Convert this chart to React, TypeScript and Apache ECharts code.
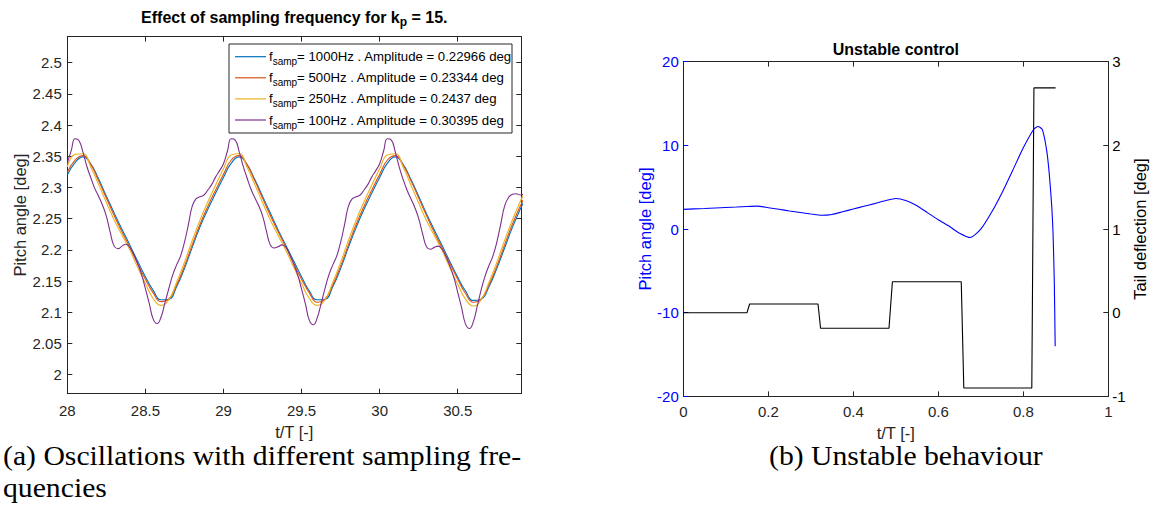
import React, { useEffect, useRef } from "react";
import * as echarts from "echarts";

// ---------- (a) Oscillations with different sampling frequencies ----------
const timeCoarse = [
  28.0, 28.05, 28.1, 28.15, 28.2, 28.25, 28.3, 28.35, 28.4, 28.45, 28.5, 28.55, 28.6, 28.65, 28.7, 28.75, 28.8, 28.85, 28.9, 28.95,
  29.0, 29.05, 29.1, 29.15, 29.2, 29.25, 29.3, 29.35, 29.4, 29.45, 29.5, 29.55, 29.6, 29.65, 29.7, 29.75, 29.8, 29.85, 29.9, 29.95,
  30.0, 30.05, 30.1, 30.15, 30.2, 30.25, 30.3, 30.35, 30.4, 30.45, 30.5, 30.55, 30.6, 30.65, 30.7, 30.75, 30.8, 30.85, 30.9, 30.95,
];
const pitch1000Hz = [
  2.320, 2.340, 2.349, 2.338, 2.314, 2.286, 2.259, 2.233, 2.208, 2.182, 2.157, 2.135, 2.120, 2.121, 2.141, 2.170, 2.204, 2.237, 2.265, 2.291,
  2.316, 2.339, 2.349, 2.337, 2.313, 2.286, 2.259, 2.232, 2.207, 2.182, 2.157, 2.134, 2.120, 2.121, 2.141, 2.170, 2.204, 2.236, 2.265, 2.291,
  2.316, 2.339, 2.349, 2.337, 2.313, 2.286, 2.258, 2.232, 2.207, 2.181, 2.156, 2.134, 2.119, 2.121, 2.141, 2.170, 2.203, 2.236, 2.265, 2.291,
];
const pitch500Hz = [
  2.324, 2.344, 2.351, 2.337, 2.311, 2.283, 2.255, 2.229, 2.204, 2.178, 2.153, 2.131, 2.117, 2.121, 2.144, 2.174, 2.208, 2.241, 2.270, 2.296,
  2.321, 2.344, 2.351, 2.337, 2.311, 2.283, 2.255, 2.229, 2.204, 2.178, 2.153, 2.131, 2.116, 2.121, 2.144, 2.174, 2.208, 2.241, 2.270, 2.296,
  2.321, 2.344, 2.351, 2.336, 2.311, 2.283, 2.255, 2.228, 2.203, 2.178, 2.153, 2.130, 2.116, 2.121, 2.144, 2.174, 2.208, 2.241, 2.270, 2.296,
];
const pitch250Hz = [
  2.333, 2.353, 2.354, 2.333, 2.305, 2.276, 2.248, 2.224, 2.200, 2.172, 2.146, 2.122, 2.111, 2.120, 2.148, 2.180, 2.215, 2.248, 2.277, 2.304,
  2.330, 2.352, 2.354, 2.333, 2.305, 2.276, 2.248, 2.223, 2.199, 2.172, 2.146, 2.122, 2.111, 2.120, 2.148, 2.180, 2.215, 2.248, 2.277, 2.304,
  2.330, 2.352, 2.354, 2.333, 2.304, 2.275, 2.247, 2.223, 2.199, 2.171, 2.145, 2.121, 2.110, 2.120, 2.148, 2.180, 2.215, 2.248, 2.277, 2.304,
];
const timeFine = [
  28.0, 28.025, 28.05, 28.075, 28.1, 28.125, 28.15, 28.175, 28.2, 28.225, 28.25, 28.275, 28.3, 28.325, 28.35, 28.375, 28.4, 28.425, 28.45, 28.475,
  28.5, 28.525, 28.55, 28.575, 28.6, 28.625, 28.65, 28.675, 28.7, 28.725, 28.75, 28.775, 28.8, 28.825, 28.85, 28.875, 28.9, 28.925, 28.95, 28.975,
  29.0, 29.025, 29.05, 29.075, 29.1, 29.125, 29.15, 29.175, 29.2, 29.225, 29.25, 29.275, 29.3, 29.325, 29.35, 29.375, 29.4, 29.425, 29.45, 29.475,
  29.5, 29.525, 29.55, 29.575, 29.6, 29.625, 29.65, 29.675, 29.7, 29.725, 29.75, 29.775, 29.8, 29.825, 29.85, 29.875, 29.9, 29.925, 29.95, 29.975,
  30.0, 30.025, 30.05, 30.075, 30.1, 30.125, 30.15, 30.175, 30.2, 30.225, 30.25, 30.275, 30.3, 30.325, 30.35, 30.375, 30.4, 30.425, 30.45, 30.475,
  30.5, 30.525, 30.55, 30.575, 30.6, 30.625, 30.65, 30.675, 30.7, 30.725, 30.75, 30.775, 30.8, 30.825, 30.85, 30.875, 30.9, 30.925, 30.95, 30.975,
];
const pitch100Hz = [
  2.339, 2.359, 2.378, 2.375, 2.357, 2.334, 2.316, 2.299, 2.286, 2.272, 2.254, 2.228, 2.206, 2.202, 2.206, 2.209, 2.204, 2.193, 2.178, 2.161,
  2.138, 2.114, 2.089, 2.082, 2.092, 2.115, 2.138, 2.160, 2.176, 2.190, 2.212, 2.240, 2.270, 2.282, 2.285, 2.288, 2.296, 2.305, 2.317, 2.327,
  2.338, 2.358, 2.378, 2.376, 2.358, 2.335, 2.316, 2.298, 2.284, 2.271, 2.255, 2.230, 2.208, 2.203, 2.205, 2.208, 2.204, 2.192, 2.177, 2.160,
  2.137, 2.113, 2.087, 2.080, 2.091, 2.114, 2.138, 2.160, 2.176, 2.190, 2.212, 2.240, 2.270, 2.282, 2.285, 2.288, 2.296, 2.305, 2.317, 2.327,
  2.338, 2.358, 2.378, 2.376, 2.357, 2.333, 2.313, 2.296, 2.282, 2.268, 2.250, 2.226, 2.205, 2.201, 2.204, 2.206, 2.201, 2.189, 2.174, 2.156,
  2.132, 2.107, 2.081, 2.074, 2.085, 2.110, 2.136, 2.158, 2.175, 2.190, 2.212, 2.241, 2.270, 2.284, 2.289, 2.290, 2.288, 2.290, 2.300, 2.312,
];
const samplingRates = ["1000Hz", "500Hz", "250Hz", "100Hz"];
const amplitudes = ["0.22966", "0.23344", "0.2437", "0.30395"];
const lineColors = ["#0072BD", "#D95319", "#EDB120", "#7E2F8E"];

// ---------- (b) Unstable behaviour ----------
const unstableTime = [
  0.0, 0.025, 0.05, 0.075, 0.1, 0.125, 0.15, 0.175, 0.2, 0.225, 0.25, 0.275, 0.3, 0.325, 0.35, 0.375, 0.4, 0.425, 0.45, 0.475,
  0.5, 0.525, 0.55, 0.575, 0.6, 0.625, 0.65, 0.675, 0.7, 0.725, 0.75, 0.775, 0.8, 0.825, 0.835, 0.845, 0.855, 0.861, 0.867,
  0.87, 0.873, 0.875,
];
const unstablePitch = [
  2.35, 2.40, 2.45, 2.51, 2.57, 2.63, 2.69, 2.73, 2.54, 2.35, 2.16, 1.98, 1.80, 1.64, 1.74, 2.06, 2.39, 2.71, 3.03, 3.37,
  3.65, 3.38, 2.78, 1.93, 1.10, 0.35, -0.50, -1.02, -0.02, 1.96, 4.34, 7.0, 9.7, 11.95, 12.25, 11.85, 9.4, 6.65, 2.66,
  -0.5, -6.5, -14.0,
];
const tailTime = [0.0, 0.15, 0.156, 0.317, 0.323, 0.484, 0.492, 0.654, 0.66, 0.82, 0.825, 0.876];
const tailDeflection = [0.0, 0.0, 0.104, 0.104, -0.186, -0.186, 0.37, 0.37, -0.9, -0.9, 2.686, 2.686];

const captionA1 = "(a) Oscillations with different sampling fre-";
const captionA2 = "quencies";
const captionB = "(b) Unstable behaviour";

const SANS = "'Liberation Sans', Arial, Helvetica, sans-serif";
const SERIF = "'Liberation Serif', 'Times New Roman', serif";
const GRAY = "#262626";

const pairs = (xs: number[], ys: number[]) => xs.map((x, i) => [x, ys[i]]);

// layout (pixels)
const A = { left: 67.3, top: 36.6, width: 454, height: 357.1 };
const B = { left: 683.3, top: 61.6, width: 425, height: 334.8 };

function baseAxis(extra: any) {
  return {
    type: "value",
    axisLine: { show: true, onZero: false, lineStyle: { color: GRAY, width: 1 } },
    axisTick: { show: true, inside: true, length: 5, lineStyle: { color: GRAY, width: 1 } },
    axisLabel: { color: GRAY, fontSize: 15, fontFamily: SANS },
    splitLine: { show: false },
    ...extra,
  };
}

const fmt05 = (v: number) =>
  Math.abs(v * 20 - Math.round(v * 20)) < 1e-6 ? String(Math.round(v * 100) / 100) : "";

export default function App() {
  const ref = useRef<HTMLDivElement>(null);

  useEffect(() => {
    if (!ref.current) return;
    const chart = echarts.init(ref.current, null, { renderer: "svg" });

    const legendTop = 44;
    const legendRows = [56.7, 77.8, 98.9, 120];
    const legendEls: any[] = [
      {
        type: "rect",
        shape: { x: 229, y: legendTop, width: 283, height: 89 },
        style: { fill: "#ffffff", stroke: GRAY, lineWidth: 1 },
        z: 100,
      },
    ];
    samplingRates.forEach((r, i) => {
      legendEls.push({
        type: "line",
        shape: { x1: 235, y1: legendRows[i], x2: 266, y2: legendRows[i] },
        style: { stroke: lineColors[i], lineWidth: 1.2 },
        z: 101,
      });
      legendEls.push({
        type: "text",
        x: 269,
        y: legendRows[i],
        z: 101,
        style: {
          text: `{a|f}{b|samp}{a|= ${r} . Amplitude = ${amplitudes[i]} deg}`,
          verticalAlign: "middle",
          rich: {
            a: { fontSize: 13.2, fontFamily: SANS, fill: "#000", lineHeight: 20, verticalAlign: "middle" },
            b: { fontSize: 10, fontFamily: SANS, fill: "#000", verticalAlign: "bottom" },
          },
        },
      });
    });

    const captionStyle = { verticalAlign: "middle", fontSize: 27, fontFamily: SERIF, fill: "#000" };

    const option: any = {
      animation: false,
      backgroundColor: "#ffffff",
      grid: [
        { left: A.left, top: A.top, width: A.width, height: A.height, containLabel: false },
        { left: B.left, top: B.top, width: B.width, height: B.height, containLabel: false },
      ],
      xAxis: [
        baseAxis({
          gridIndex: 0, position: "bottom", min: 28, max: 30.907, interval: 0.5,
          axisLabel: { color: GRAY, fontSize: 15, fontFamily: SANS, margin: 9, showMaxLabel: false,
            formatter: (v: number) => (Math.abs(v * 2 - Math.round(v * 2)) < 1e-6 ? String(v) : "") },
          name: "t/T [-]", nameLocation: "middle", nameGap: 30,
          nameTextStyle: { color: GRAY, fontSize: 16.5, fontFamily: SANS },
        }),
        baseAxis({
          gridIndex: 0, position: "top", min: 28, max: 30.907, interval: 0.5,
          axisLabel: { show: false },
        }),
        baseAxis({
          gridIndex: 1, position: "bottom", min: 0, max: 1, interval: 0.2,
          axisLabel: { color: GRAY, fontSize: 15, fontFamily: SANS, margin: 8 },
          name: "t/T [-]", nameLocation: "middle", nameGap: 26,
          nameTextStyle: { color: GRAY, fontSize: 16.5, fontFamily: SANS },
        }),
        baseAxis({
          gridIndex: 1, position: "top", min: 0, max: 1, interval: 0.2,
          axisLabel: { show: false },
        }),
      ],
      yAxis: [
        baseAxis({
          gridIndex: 0, position: "left", min: 1.9695, max: 2.5418, splitNumber: 11,
          axisLabel: { color: GRAY, fontSize: 15, fontFamily: SANS, margin: 5.5, formatter: fmt05 },
          name: "Pitch angle [deg]", nameLocation: "middle", nameGap: 39, nameRotate: 90,
          nameTextStyle: { color: GRAY, fontSize: 16.5, fontFamily: SANS },
        }),
        baseAxis({
          gridIndex: 0, position: "right", min: 1.9695, max: 2.5418, splitNumber: 11,
          axisLabel: { show: false },
        }),
        baseAxis({
          gridIndex: 1, position: "left", min: -20, max: 20, interval: 10,
          axisLine: { show: true, onZero: false, lineStyle: { color: "#0000ff", width: 1 } },
          axisTick: { show: true, inside: true, length: 5, lineStyle: { color: "#0000ff", width: 1 } },
          axisLabel: { color: "#0000ff", fontSize: 15, fontFamily: SANS, margin: 4.5 },
          name: "Pitch angle [deg]", nameLocation: "middle", nameGap: 28.5, nameRotate: 90,
          nameTextStyle: { color: "#0000ff", fontSize: 16.5, fontFamily: SANS },
        }),
        baseAxis({
          gridIndex: 1, position: "right", min: -1, max: 3, interval: 1,
          axisLine: { show: true, onZero: false, lineStyle: { color: GRAY, width: 1 } },
          axisTick: { show: true, inside: true, length: 5, lineStyle: { color: GRAY, width: 1 } },
          axisLabel: { color: "#000000", fontSize: 15, fontFamily: SANS, margin: 4 },
          name: "Tail deflection [deg]", nameLocation: "middle", nameGap: 23.5, nameRotate: 90,
          nameTextStyle: { color: "#000000", fontSize: 16.5, fontFamily: SANS },
        }),
      ],
      series: [
        ...[pitch1000Hz, pitch500Hz, pitch250Hz].map((vals, i) => ({
          type: "line",
          name: `f_samp = ${samplingRates[i]}`,
          xAxisIndex: 0,
          yAxisIndex: 0,
          data: pairs(timeCoarse, vals),
          showSymbol: false,
          symbol: "none",
          smooth: 0.5,
          lineStyle: { color: lineColors[i], width: 1.1 },
          z: 2 + i,
        })),
        {
          type: "line",
          name: `f_samp = ${samplingRates[3]}`,
          xAxisIndex: 0,
          yAxisIndex: 0,
          data: pairs(timeFine, pitch100Hz),
          showSymbol: false,
          symbol: "none",
          smooth: 0.5,
          lineStyle: { color: lineColors[3], width: 1.1 },
          z: 6,
        },
        {
          type: "line",
          name: "Pitch angle",
          xAxisIndex: 2,
          yAxisIndex: 2,
          data: pairs(unstableTime, unstablePitch),
          showSymbol: false,
          symbol: "none",
          smooth: 0.2,
          lineStyle: { color: "#0000ff", width: 1.1 },
        },
        {
          type: "line",
          name: "Tail deflection",
          xAxisIndex: 2,
          yAxisIndex: 3,
          data: pairs(tailTime, tailDeflection),
          showSymbol: false,
          symbol: "none",
          lineStyle: { color: "#000000", width: 1.1 },
        },
      ],
      graphic: [
        {
          type: "text",
          x: A.left + A.width / 2,
          y: 17,
          style: {
            text: "{a|Effect of sampling frequency for k}{b|p}{a| = 15.}",
            align: "center",
            verticalAlign: "middle",
            rich: {
              a: { fontSize: 16, fontWeight: "bold", fontFamily: SANS, fill: "#000", lineHeight: 22, verticalAlign: "middle" },
              b: { fontSize: 12, fontWeight: "bold", fontFamily: SANS, fill: "#000", verticalAlign: "bottom" },
            },
          },
        },
        {
          type: "text",
          x: B.left + B.width / 2,
          y: 49,
          style: {
            text: "Unstable control",
            align: "center",
            verticalAlign: "middle",
            fontSize: 16,
            fontWeight: "bold",
            fontFamily: SANS,
            fill: "#000",
          },
        },
        ...legendEls,
        { type: "text", x: 3, y: 456, scaleX: 1.1, style: { text: captionA1, ...captionStyle } },
        { type: "text", x: 3, y: 488, scaleX: 1.1, style: { text: captionA2, ...captionStyle } },
        { type: "text", x: 769, y: 456, scaleX: 1.1, style: { text: captionB, ...captionStyle } },
      ],
    };

    chart.setOption(option);
    return () => chart.dispose();
  }, []);

  return (
    <div
      ref={ref}
      style={{ position: "absolute", left: 0, top: 0, width: 1159, height: 519, background: "#ffffff" }}
    />
  );
}
